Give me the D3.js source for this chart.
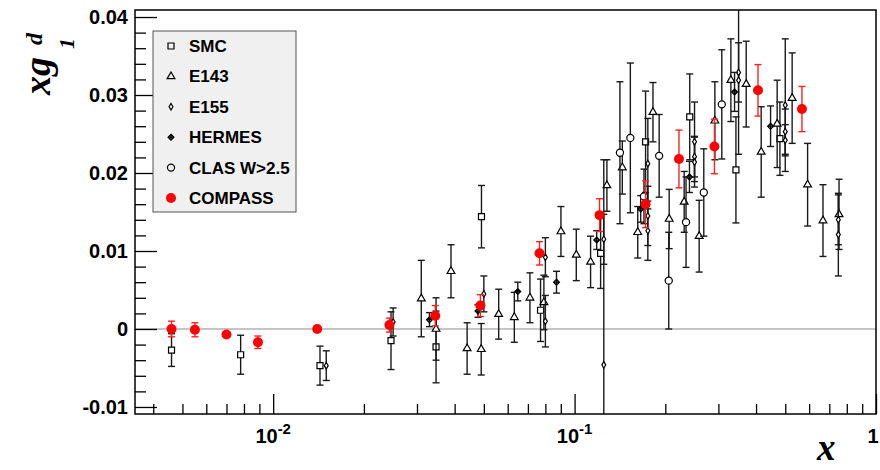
<!DOCTYPE html>
<html>
<head>
<meta charset="utf-8">
<script src="https://cdn.jsdelivr.net/npm/d3@7"></script>
<style>
    body { margin: 0; background: #fff; }
    text { font-family: "Liberation Sans", Arial, Helvetica, sans-serif; font-weight: bold; }
</style>
</head>
<body>
<svg id="chart" width="880" height="470"></svg>
<script>
// ---- data (x, x*g1^d, stat. error) ----
var smcX = [0.0046, 0.0078, 0.0143, 0.0246, 0.0347, 0.0491, 0.0771, 0.122, 0.172, 0.241, 0.343, 0.480];
var smcY = [-0.0027, -0.0033, -0.0047, -0.0015, -0.0023, 0.0144, 0.0024, 0.0097, 0.0240, 0.0272, 0.0204, 0.0244];
var smcErr = [0.0021, 0.0025, 0.0025, 0.0037, 0.0046, 0.0040, 0.0040, 0.0045, 0.0065, 0.0055, 0.0068, 0.0047];

var e143X = [0.031, 0.0347, 0.0389, 0.0440, 0.0490, 0.0560, 0.0631, 0.0711, 0.0791, 0.0901, 0.1013, 0.113, 0.128, 0.144,
    0.162, 0.182, 0.206, 0.231, 0.259, 0.292, 0.330, 0.371, 0.416, 0.470, 0.527, 0.593, 0.667, 0.754];
var e143Y = [0.0039, 0.0000, 0.0074, -0.0025, -0.0026, 0.0019, 0.0015, 0.0040, 0.0034, 0.0125, 0.0095, 0.0086, 0.0184, 0.0207,
    0.0124, 0.0278, 0.0141, 0.0163, 0.0119, 0.0267, 0.0319, 0.0314, 0.0227, 0.0263, 0.0296, 0.0185, 0.0139, 0.0147];
var e143Err = [0.0049, 0.0040, 0.0034, 0.0033, 0.0033, 0.0032, 0.0032, 0.0032, 0.0035, 0.0032, 0.0033, 0.0033, 0.0033, 0.0034,
    0.0033, 0.0038, 0.0038, 0.0039, 0.0046, 0.0050, 0.0053, 0.0055, 0.0058, 0.0056, 0.0058, 0.0053, 0.0046, 0.0045];

var e155X = [0.015, 0.025, 0.050, 0.080, 0.080, 0.125, 0.125, 0.175, 0.175, 0.175, 0.25, 0.25, 0.25, 0.35, 0.35, 0.50, 0.50, 0.50, 0.75, 0.75];
var e155Y = [-0.0047, 0.0009, 0.0045, 0.0092, 0.0010, -0.0046, 0.0115, 0.0212, 0.0145, 0.0126, 0.0240, 0.0221, 0.0214, 0.0329, 0.0319,
    0.0287, 0.0253, 0.0242, 0.0140, 0.0121];
var e155Err = [0.0019, 0.0018, 0.0023, 0.0025, 0.0033, 0.0263, 0.0032, 0.0058, 0.0038, 0.0038, 0.0051, 0.0026, 0.0032, 0.0038, 0.0095,
    0.0085, 0.0029, 0.0020, 0.0032, 0.0053];

var hermesX = [0.033, 0.0478, 0.0648, 0.0871, 0.1184, 0.1657, 0.2405, 0.3394, 0.4469];
var hermesY = [0.0012, 0.0023, 0.0048, 0.0060, 0.0114, 0.0154, 0.0195, 0.0304, 0.0260];
var hermesErr = [0.0009, 0.0008, 0.0012, 0.0014, 0.0012, 0.0017, 0.0020, 0.0025, 0.0026];

var clasX = [0.1414, 0.1531, 0.1699, 0.1908, 0.2053, 0.2343, 0.2683, 0.3079];
var clasY = [0.0226, 0.0245, 0.0170, 0.0222, 0.0062, 0.0137, 0.0175, 0.0288];
var clasErr = [0.0091, 0.0096, 0.0035, 0.0053, 0.0062, 0.0058, 0.0056, 0.0070];

var compassX = [0.0046, 0.0055, 0.0070, 0.0089, 0.0140, 0.0243, 0.0345, 0.0487, 0.0765, 0.121, 0.172, 0.222, 0.291, 0.406, 0.568];
var compassY = [0.0000, -0.0001, -0.0007, -0.0017, 0.0000, 0.0005, 0.0017, 0.0030, 0.0097, 0.0146, 0.0160, 0.0218, 0.0234, 0.0306, 0.0282];
var compassErr = [0.0010, 0.0009, 0.0003, 0.0008, 0.0003, 0.0009, 0.0013, 0.0014, 0.0015, 0.0021, 0.0030, 0.0037, 0.0035, 0.0033, 0.0029];

var legendNames = ["SMC", "E143", "E155", "HERMES", "CLAS W>2.5", "COMPASS"];
var yTicks = [-0.01, 0, 0.01, 0.02, 0.03, 0.04];
var xTicks = [0.01, 0.1, 1];
var xTickLabels = [["10", "-2"], ["10", "-1"], ["1", ""]];

// ---- frame ----
// (window.top is read-only, so no plain "top" here)
var padL = 135, padR = 876, padT = 10, padB = 414;
var svg = d3.select("#chart");

var x = d3.scaleLog().domain([0.00348, 1]).range([padL, padR]);
var y = d3.scaleLinear().domain([-0.0109, 0.0409]).range([padB, padT]);

svg.append("defs").append("clipPath").attr("id", "plot-clip")
    .append("rect")
    .attr("x", padL).attr("y", padT)
    .attr("width", padR - padL).attr("height", padB - padT);

// zero line
svg.append("line")
    .attr("x1", padL).attr("x2", padR)
    .attr("y1", y(0)).attr("y2", y(0))
    .attr("stroke", "#8c8c8c").attr("stroke-width", 1);

// ---- axes (ticks point inward, like ROOT) ----
var yMinor = d3.range(-10, 41, 2).map(k => k / 1000)
    .filter(v => !yTicks.some(t => Math.abs(t - v) < 1e-9) && y(v) > padT);
var gy = svg.append("g").attr("transform", "translate(" + padL + ",0)")
    .call(d3.axisLeft(y).tickValues(yTicks).tickSize(-22).tickPadding(7)
        .tickFormat(v => v === 0 ? "0" : v.toFixed(2)));
svg.append("g").attr("transform", "translate(" + padL + ",0)")
    .call(d3.axisLeft(y).tickValues(yMinor).tickSize(-11).tickFormat(""));

var xMinor = [];
[0.001, 0.01, 0.1].forEach(function (dec) {
    d3.range(2, 10).forEach(function (k) {
        var v = k * dec;
        if (v > x.domain()[0] && v < 1) xMinor.push(v);
    });
});
svg.append("g").attr("transform", "translate(0," + padB + ")")
    .call(d3.axisBottom(x).tickValues(xTicks).tickSize(-20).tickFormat(""));
svg.append("g").attr("transform", "translate(0," + padB + ")")
    .call(d3.axisBottom(x).tickValues(xMinor).tickSize(-10).tickFormat(""));

svg.selectAll(".tick line").attr("stroke", "#000").attr("stroke-width", 1.3);
svg.selectAll(".domain").remove();
gy.selectAll("text")
    .attr("fill", "#000")
    .style("font-family", "'Liberation Sans', Arial, sans-serif")
    .style("font-weight", "bold")
    .style("font-size", "20px");

// x tick labels with exponents
xTicks.forEach(function (v, i) {
    var t = svg.append("text")
        .attr("x", x(v) - (xTickLabels[i][1] ? 0 : 3))
        .attr("y", 443)
        .attr("text-anchor", "middle")
        .style("font-size", "20px");
    t.append("tspan").text(xTickLabels[i][0]);
    if (xTickLabels[i][1]) {
        t.append("tspan").attr("dy", -9).style("font-size", "15px").text(xTickLabels[i][1]);
    }
});

// ---- markers ----
var hermesType = {
    draw: function (ctx, size) {
        var r = Math.sqrt(size) / 1.6;
        ctx.moveTo(0, -r); ctx.lineTo(r, 0); ctx.lineTo(0, r); ctx.lineTo(-r, 0); ctx.closePath();
        ctx.moveTo(-r, 0); ctx.lineTo(r, 0);
        ctx.moveTo(0, -r); ctx.lineTo(0, r);
    }
};

var styles = [
    { xs: smcX, ys: smcY, es: smcErr, sym: d3.symbol().type(d3.symbolSquare).size(36), fill: "#fff", stroke: "#000", bar: "#1a1a1a" },
    { xs: e143X, ys: e143Y, es: e143Err, sym: d3.symbol().type(d3.symbolTriangle).size(26), fill: "#fff", stroke: "#000", bar: "#1a1a1a" },
    { xs: e155X, ys: e155Y, es: e155Err, sym: d3.symbol().type(d3.symbolDiamond).size(13), fill: "#fff", stroke: "#000", bar: "#1a1a1a" },
    { xs: hermesX, ys: hermesY, es: hermesErr, sym: d3.symbol().type(hermesType).size(22), fill: "#cfcfcf", stroke: "#000", bar: "#1a1a1a" },
    { xs: clasX, ys: clasY, es: clasErr, sym: d3.symbol().type(d3.symbolCircle).size(40), fill: "#fff", stroke: "#000", bar: "#1a1a1a" },
    { xs: compassX, ys: compassY, es: compassErr, sym: d3.symbol().type(d3.symbolCircle).size(78), fill: "#ff0000", stroke: "none", bar: "#ff2020" }
];

var plot = svg.append("g").attr("clip-path", "url(#plot-clip)");

styles.forEach(function (s) {
    var pts = s.xs.map((d, i) => ({ x: d, y: s.ys[i], e: s.es[i] }));
    var g = plot.append("g");

    // error bars
    g.selectAll(".bar").data(pts).enter().append("line")
        .attr("x1", d => x(d.x)).attr("x2", d => x(d.x))
        .attr("y1", d => y(d.y + d.e)).attr("y2", d => y(d.y - d.e))
        .attr("stroke", s.bar).attr("stroke-width", 1.4);
    // caps
    [1, -1].forEach(function (sgn) {
        g.selectAll(".cap" + (sgn > 0 ? "u" : "d")).data(pts).enter().append("line")
            .attr("x1", d => x(d.x) - 3.5).attr("x2", d => x(d.x) + 3.5)
            .attr("y1", d => y(d.y + sgn * d.e)).attr("y2", d => y(d.y + sgn * d.e))
            .attr("stroke", s.bar).attr("stroke-width", 1.4);
    });
    // markers
    g.selectAll(".mk").data(pts).enter().append("path")
        .attr("transform", d => "translate(" + x(d.x) + "," + y(d.y) + ")")
        .attr("d", s.sym())
        .attr("fill", s.fill)
        .attr("stroke", s.stroke)
        .attr("stroke-width", 1.2);
});

// frame
svg.append("rect")
    .attr("x", padL).attr("y", padT)
    .attr("width", padR - padL).attr("height", padB - padT)
    .attr("fill", "none").attr("stroke", "#000").attr("stroke-width", 1.5);

// ---- legend ----
var legend = svg.append("g").attr("transform", "translate(153,31)");
legend.append("rect")
    .attr("width", 143).attr("height", 181)
    .attr("fill", "#f0f0f0").attr("stroke", "#555").attr("stroke-width", 1);

legendNames.forEach(function (name, i) {
    var ly = 15 + i * 30.4;
    var s = styles[i];
    legend.append("path")
        .attr("transform", "translate(18," + ly + ")")
        .attr("d", s.sym())
        .attr("fill", s.fill === "#fff" ? "#f0f0f0" : s.fill)
        .attr("stroke", s.stroke)
        .attr("stroke-width", 1.2);
    legend.append("text")
        .attr("x", 36).attr("y", ly + 6)
        .style("font-size", "17px")
        .text(name);
});

// ---- axis titles ----
svg.append("text")
    .attr("x", 817).attr("y", 460)
    .style("font-family", "'Liberation Serif', 'Times New Roman', serif")
    .style("font-style", "italic")
    .style("font-size", "37px")
    .text("x");

var yt = svg.append("g").attr("transform", "translate(50,95) rotate(-90)");
yt.append("text")
    .attr("x", 0).attr("y", 0)
    .style("font-family", "'Liberation Serif', 'Times New Roman', serif")
    .style("font-style", "italic")
    .style("font-size", "38px")
    .text("xg");
yt.append("text")
    .attr("x", 46).attr("y", 24)
    .style("font-family", "'Liberation Serif', 'Times New Roman', serif")
    .style("font-style", "italic")
    .style("font-size", "22px")
    .text("1");
yt.append("text")
    .attr("x", 50).attr("y", -8)
    .style("font-family", "'Liberation Serif', 'Times New Roman', serif")
    .style("font-style", "italic")
    .style("font-size", "24px")
    .text("d");
</script>
</body>
</html>
